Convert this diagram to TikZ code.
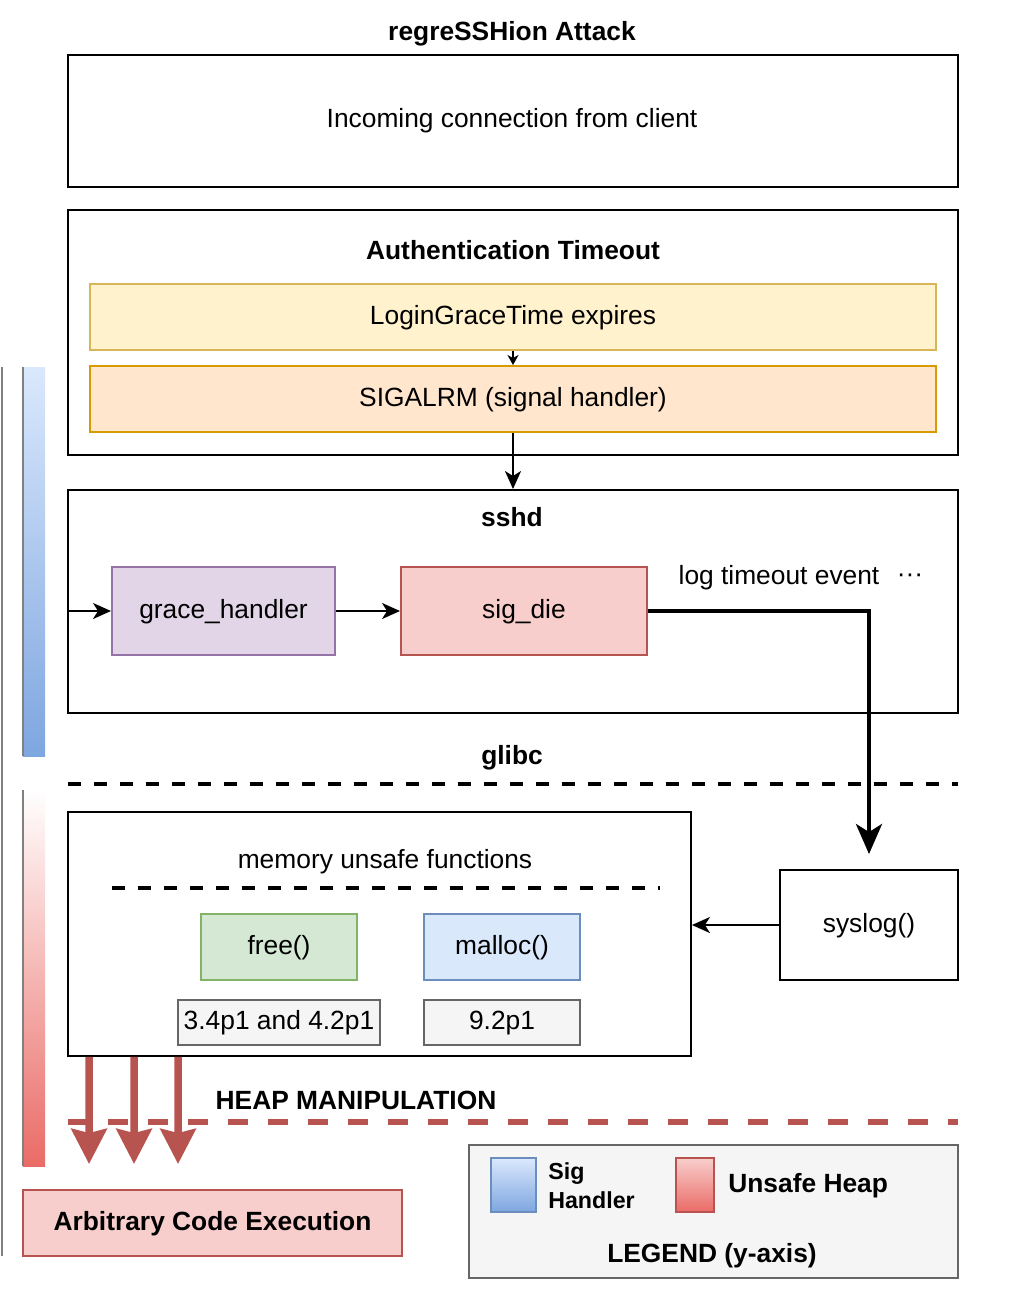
\documentclass[tikz,border=0pt]{standalone}
\usepackage{fontspec}
\setmainfont{Liberation Sans}
\usetikzlibrary{arrows.meta}

\definecolor{loginfill}{HTML}{FFF2CC}
\definecolor{logindraw}{HTML}{D6B656}
\definecolor{alrmfill}{HTML}{FFE6CC}
\definecolor{alrmdraw}{HTML}{D79B00}
\definecolor{gracefill}{HTML}{E1D5E7}
\definecolor{gracedraw}{HTML}{9673A6}
\definecolor{diefill}{HTML}{F8CECC}
\definecolor{diedraw}{HTML}{B85450}
\definecolor{freefill}{HTML}{D5E8D4}
\definecolor{freedraw}{HTML}{82B366}
\definecolor{mallocfill}{HTML}{DAE8FC}
\definecolor{mallocdraw}{HTML}{6C8EBF}
\definecolor{verfill}{HTML}{F5F5F5}
\definecolor{verdraw}{HTML}{666666}
\definecolor{sigend}{HTML}{7EA6E0}
\definecolor{heapend}{HTML}{EA6B66}

\begin{document}
\begin{tikzpicture}[x=0.02cm, y=-0.02cm,
    every node/.style={font=\fontsize{15}{18}\selectfont},
    head/.style={font=\fontsize{15}{18}\selectfont\bfseries},
    frame/.style={draw, line width=0.04cm},
    colbox/.style 2 args={draw=#1, fill=#2, line width=0.04cm},
    arr/.style={line width=0.04cm, -{Stealth[length=0.36cm, width=0.32cm, inset=0.1cm]}},
    smallarr/.style={line width=0.03cm, -{Stealth[length=0.2cm, width=0.22cm, inset=0.06cm]}},
    fatarr/.style={line width=0.08cm, -{Stealth[length=0.6cm, width=0.52cm, inset=0.16cm]}},
    heaparr/.style={draw=diedraw, line width=0.15cm, -{Stealth[length=0.7cm, width=0.7cm, inset=0.08cm]}},
    sepline/.style={line width=0.08cm, dash pattern=on 0.26cm off 0.26cm}]
    \useasboundingbox (0,0) rectangle (1024,1289);

    % y-axis bars
    \draw[gray, line width=0.04cm] (2,367) -- (2,1256);
    \shade[top color=mallocfill, bottom color=sigend] (23,367) rectangle (45,756);
    \draw[gray, line width=0.04cm] (23,367) -- (23,756);
    \shade[top color=white, bottom color=heapend] (23,790) rectangle (45,1166);
    \draw[gray, line width=0.04cm] (23,790) -- (23,1166);

    % attack
    \node[head] (title) at (512,34) {regreSSHion Attack};
    \node[frame, minimum width=17.8cm, minimum height=2.64cm] (conn) at (513,121) {};
    \node (conntext) at (512,121) {Incoming connection from client};

    % timeout
    \node[frame, minimum width=17.8cm, minimum height=4.9cm] (auth) at (513,332.5) {};
    \node[head] (authtitle) at (513,250) {Authentication Timeout};
    \node[colbox={logindraw}{loginfill}, minimum width=16.92cm, minimum height=1.32cm, text depth=0.1cm] (login) at (513,317) {LoginGraceTime expires};
    \node[colbox={alrmdraw}{alrmfill}, minimum width=16.92cm, minimum height=1.32cm, text depth=0.1cm] (alrm) at (513,399) {SIGALRM (signal handler)};

    % sshd
    \node[frame, minimum width=17.8cm, minimum height=4.46cm] (sshd) at (513,601.5) {};
    \node[head] (sshdtitle) at (512,517) {sshd};
    \node[colbox={gracedraw}{gracefill}, minimum width=4.46cm, minimum height=1.76cm, text depth=0.1cm] (grace) at (223.5,611) {grace\_handler};
    \node[colbox={diedraw}{diefill}, minimum width=4.92cm, minimum height=1.76cm, text depth=0.1cm] (sigdie) at (524,611) {sig\_die};
    \node (logev) at (779,578) {log timeout event};
    \node (dots) at (910,578) {···};

    % glibc
    \node[head] (glibc) at (512,758) {glibc};
    \draw[sepline] (68,784) -- (958,784);
    \node[frame, minimum width=12.46cm, minimum height=4.88cm] (mem) at (379.5,934) {};
    \node (memtitle) at (385,862) {memory unsafe functions};
    \draw[sepline] (112,888) -- (660,888);
    \node[colbox={freedraw}{freefill}, minimum width=3.12cm, minimum height=1.32cm, text depth=0.1cm] (free) at (279,947) {free()};
    \node[colbox={mallocdraw}{mallocfill}, minimum width=3.12cm, minimum height=1.32cm, text depth=0.1cm] (malloc) at (502,947) {malloc()};
    \node[colbox={verdraw}{verfill}, minimum width=4cm, minimum height=0.9cm, text depth=0.1cm] (freever) at (279,1022.5) {3.4p1 and 4.2p1};
    \node[colbox={verdraw}{verfill}, minimum width=3.12cm, minimum height=0.9cm, text depth=0.1cm] (mallocver) at (502,1022.5) {9.2p1};
    \node[frame, minimum width=3.56cm, minimum height=2.2cm, text depth=0.1cm] (syslog) at (869,925) {syslog()};

    % heap
    \node[head] (heap) at (356,1100) {HEAP MANIPULATION};
    \draw[draw=diedraw, line width=0.12cm, dash pattern=on 0.4cm off 0.4cm] (68,1122) -- (958,1122);
    \node[colbox={diedraw}{diefill}, minimum width=7.58cm, minimum height=1.32cm, text depth=0.1cm, head] (ace) at (212.5,1223) {Arbitrary Code Execution};

    % legend
    \node[colbox={verdraw}{verfill}, minimum width=9.78cm, minimum height=2.66cm] (legend) at (713.5,1211.5) {};
    \shade[top color=mallocfill, bottom color=sigend, draw=mallocdraw, line width=0.04cm] (491,1158) rectangle (536,1212);
    \shade[top color=diefill, bottom color=heapend, draw=diedraw, line width=0.04cm] (676,1158) rectangle (714,1212);
    \node[anchor=west, align=left, inner sep=0pt, font=\fontsize{13.2}{16.5}\selectfont\bfseries] (legsig) at (548,1186) {Sig\\Handler};
    \node[head, anchor=west, inner sep=0pt] (legheap) at (728,1186) {Unsafe Heap};
    \node[head] (legtitle) at (712,1256) {LEGEND (y-axis)};

    % connectors
    \draw[smallarr] (login) -- (alrm);
    \draw[arr] (alrm) -- (sshd);
    \draw[arr] (sshd.west |- grace) -- (grace);
    \draw[arr] (grace) -- (sigdie);
    \draw[fatarr, shorten >=0.3cm] (sigdie.east) -| (syslog.north);
    \draw[arr] (syslog.west) -- (syslog.west -| mem.east);
    \foreach \dx in {22,67,111}
        \draw[heaparr, shorten >=0.5cm] ([xshift=\dx*0.02cm]mem.south west) -- ([xshift=\dx*0.02cm+0.9cm]ace.north west);
\end{tikzpicture}
\end{document}
